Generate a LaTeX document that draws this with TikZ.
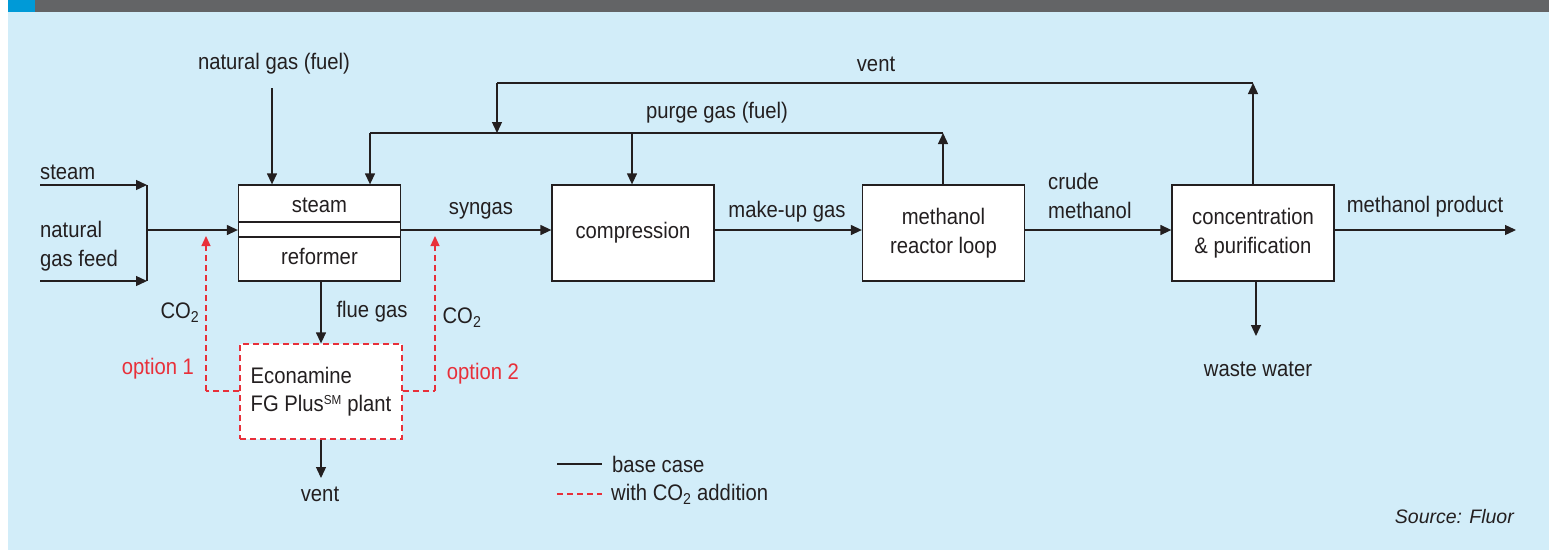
\documentclass[tikz,border=0pt]{standalone}
\usepackage{fontspec}
\setmainfont{Liberation Sans}[FakeStretch=0.9]
\newfontfamily\srcfont{Liberation Sans}
\usetikzlibrary{arrows.meta}
\definecolor{bgblue}{HTML}{D2EDF9}
\definecolor{bargray}{HTML}{636466}
\definecolor{barblue}{HTML}{009AD7}
\definecolor{ink}{HTML}{231F20}
\definecolor{optred}{HTML}{E8303A}
\tikzset{
  x=1pt, y=-1pt,
  every node/.style={font=\fontsize{22.5}{28.5}\selectfont, text=ink},
  proc/.style={draw=ink, line width=1.3pt, fill=white, minimum width=162pt, minimum height=96pt, align=center, inner sep=0pt},
  flow/.style={draw=ink, line width=1.3pt, -{Triangle[length=11pt,width=10pt]}},
  line/.style={draw=ink, line width=1.3pt},
  redflow/.style={draw=optred, line width=1.3pt, dash pattern=on 6pt off 4pt, -{Triangle[length=10pt,width=9pt]}},
  redline/.style={draw=optred, line width=1.3pt, dash pattern=on 6pt off 4pt},
  lbl/.style={inner sep=0pt},
  redlbl/.style={inner sep=0pt, text=optred}
}
\begin{document}
\begin{tikzpicture}
\useasboundingbox (0,0) rectangle (1550,550);
\fill[bgblue] (8,0) rectangle (1549,550);
\fill[bargray] (8,0) rectangle (1549,12);
\fill[barblue] (8,0) rectangle (35,12);

% process boxes
\node[proc] (ref) at (319.5,233) {};
\node[lbl] (refa) at (319.5,205) {steam};
\node[lbl] (refb) at (319.5,256) {reformer};
\draw[line] (ref.west |- 0,222) coordinate (ia) -- (ref.east |- 0,222) coordinate (ib);
\draw[line] (ref.west |- 0,237) coordinate (ic) -- (ref.east |- 0,237) coordinate (id);

\node[proc] (comp) at (633,233) {compression};
\node[proc] (mrl) at (943.5,233) {methanol\\reactor loop};
\node[proc] (conc) at (1253,233) {concentration\\\& purification};
\node[proc, draw=optred, dash pattern=on 6pt off 4pt, minimum height=95pt, align=left] (econ) at (321,391.5) {Econamine\\FG Plus\textsuperscript{\fontsize{13}{14}\selectfont SM} plant};

% feeds
\coordinate (mix) at (147,230);
\coordinate (mixtop) at (147,185);
\coordinate (mixbot) at (147,281);
\coordinate (steamin) at (40,185);
\coordinate (ngin) at (40,281);
\node[lbl, anchor=west] (steamlbl) at (40,172) {steam};
\node[lbl, anchor=west, align=left] (nglbl) at (40,246) {natural\\gas feed};
\draw[flow] (steamin) -- (mixtop);
\draw[flow] (ngin) -- (mixbot);
\draw[line] (mixtop) -- (mixbot);
\draw[flow] (mix) -- (ref.west |- mix);

% natural gas fuel
\node[lbl] (ngfuel) at (274,64) {natural gas (fuel)};
\coordinate (ngf) at (272,88);
\draw[flow] (ngf) -- (ngf |- ref.north);

% syngas etc
\draw[flow] (ref.east |- 0,230) -- (comp.west |- 0,230);
\node[lbl] (syn) at (481,211) {syngas};
\draw[flow] (comp.east |- 0,230) -- (mrl.west |- 0,230);
\node[lbl] (mug) at (787,212) {make-up gas};
\draw[flow] (mrl.east |- 0,230) -- (conc.west |- 0,230);
\node[lbl, align=left, anchor=west] (crude) at (1048,196) {crude\\methanol};
\coordinate (prod) at (1516,230);
\draw[flow] (conc.east |- 0,230) -- (prod);
\node[lbl] (prodlbl) at (1425,207) {methanol product};
\coordinate (ww) at (1256,336);
\draw[flow] (ww |- conc.south) -- (ww);
\node[lbl] (wwlbl) at (1258,369) {waste water};

% purge gas
\coordinate (pl) at (370,133);
\coordinate (pm) at (632,133);
\coordinate (pr) at (943,133);
\draw[flow] (pr |- mrl.north) -- (pr);
\draw[line] (pr) -- (pl);
\draw[flow] (pl) -- (pl |- ref.north);
\draw[flow] (pm) -- (pm |- comp.north);
\node[lbl] (purge) at (717,113) {purge gas (fuel)};

% vent loop
\coordinate (vr) at (1253,83);
\coordinate (vl) at (497,83);
\coordinate (vd) at (497,133);
\draw[flow] (vr |- conc.north) -- (vr);
\draw[line] (vr) -- (vl);
\draw[flow] (vl) -- (vd);
\node[lbl] (vent1) at (876,64) {vent};

% flue gas
\coordinate (fg) at (321,281);
\draw[flow] (fg) -- (fg |- econ.north);
\node[lbl] (fglbl) at (372,312) {flue gas};
\coordinate (fv) at (321,478);
\draw[flow] (fv |- econ.south) -- (fv);
\node[lbl] (vent2) at (320,494) {vent};

% CO2 options
\coordinate (o1b) at (206,391);
\coordinate (o1t) at (206,236);
\draw[redline] (econ.west |- o1b) -- (o1b);
\draw[redflow] (o1b) -- (o1t);
\coordinate (o2b) at (435,391);
\coordinate (o2t) at (435,236);
\draw[redline] (econ.east |- o2b) -- (o2b);
\draw[redflow] (o2b) -- (o2t);
\node[lbl] (co2a) at (180,313) {CO\textsubscript{2}};
\node[lbl] (co2b) at (462,318) {CO\textsubscript{2}};
\node[redlbl] (op1) at (158,369) {option 1};
\node[redlbl] (op2) at (483,374) {option 2};

% legend
\coordinate (l1a) at (557,464);
\coordinate (l1b) at (602,464);
\draw[line] (l1a) -- (l1b);
\node[lbl, anchor=west] (leg1) at (612,464) {base case};
\coordinate (l2a) at (557,494);
\coordinate (l2b) at (602,494);
\draw[redline] (l2a) -- (l2b);
\node[lbl, anchor=west] (leg2) at (611,494) {with CO\textsubscript{2} addition};

\node[lbl, anchor=east, font=\srcfont\itshape\fontsize{19.5}{22}\selectfont] (src) at (1514,517) {Source: Fluor};
\end{tikzpicture}
\end{document}
